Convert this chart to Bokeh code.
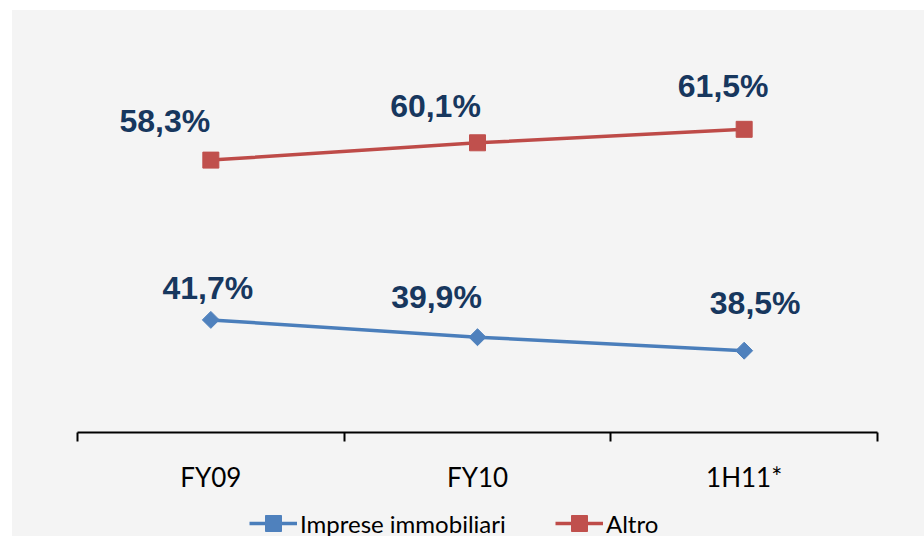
import math
from bokeh.plotting import figure
from bokeh.models import (Range1d, LinearAxis, FixedTicker, Legend, LegendItem,
                          Spacer, Row, Column)
from bokeh.core.properties import value
from bokeh.embed import file_html
from bokeh.resources import INLINE

# ---- data ----
categories = ["FY09", "FY10", "1H11*"]
imprese = [41.7, 39.9, 38.5]
altro = [58.3, 60.1, 61.5]
series_names = ["Imprese immobiliari", "Altro"]

# ---- styles ----
BG = "#f4f4f4"
BLUE_LINE, BLUE_MARK = "#4a7ebb", "#4f81bd"
RED_LINE, RED_MARK = "#be4b48", "#c0504d"
LABEL_COLOR = "#17375e"
imprese_dx = [-3, -41, 11]
imprese_dy = [-32, -40, -48]
altro_dx = [-46, -42, -21]
altro_dy = [-39, -37, -43]


def fmt(v):
    return f"{v:.1f}%".replace(".", ",")


# category slots: each category occupies one unit, centred at i + 0.5
xs = [i + 0.5 for i in range(len(categories))]
edges = list(range(len(categories) + 1))

p = figure(width=912, height=490, x_range=Range1d(0, len(categories)), y_range=Range1d(30, 70),
           x_axis_location=None, y_axis_location=None,
           output_backend="svg", toolbar_location=None,
           min_border_left=65, min_border_right=47, min_border_top=37, min_border_bottom=68)
p.background_fill_color = BG
p.border_fill_color = BG
p.outline_line_color = None
p.grid.visible = False

ax = LinearAxis(ticker=FixedTicker(ticks=xs, minor_ticks=edges),
                major_label_overrides={c: lab for c, lab in zip(xs, categories)})
ax.axis_line_color = "black"
ax.axis_line_width = 2
ax.major_tick_line_color = None
ax.major_tick_in = 0
ax.major_tick_out = 0
ax.minor_tick_line_color = "black"
ax.minor_tick_line_width = 2
ax.minor_tick_in = 0
ax.minor_tick_out = 9
ax.major_label_text_font = "Lato"
ax.major_label_text_font_size = "26px"
ax.major_label_text_color = "black"
ax.major_label_standoff = 19
p.add_layout(ax, "below")

blue_line = dict(line_color=BLUE_LINE, line_width=3.5)
blue_mark = dict(marker="square", angle=math.pi / 4, size=12, fill_color=BLUE_MARK, line_color=BLUE_MARK)
red_line = dict(line_color=RED_LINE, line_width=3.5)
red_mark = dict(marker="square", size=16, fill_color=RED_MARK, line_color=RED_MARK)

p.line(xs, imprese, **blue_line)
p.scatter(xs, imprese, **blue_mark)
p.line(xs, altro, **red_line)
p.scatter(xs, altro, **red_mark)

for vals, dx, dy in ((imprese, imprese_dx, imprese_dy), (altro, altro_dx, altro_dy)):
    p.text(x=xs, y=vals, text=[fmt(v) for v in vals], x_offset=dx, y_offset=dy,
           text_align="center", text_baseline="alphabetic",
           text_font=value("Liberation Sans"), text_font_style="bold",
           text_font_size="32px", text_color=LABEL_COLOR)

# legend strip under the chart: same series, drawn off-range so only the legend shows
q = figure(width=912, height=36, x_range=Range1d(0, len(categories)), y_range=Range1d(0, 1),
           x_axis_location=None, y_axis_location=None,
           output_backend="svg", toolbar_location=None,
           min_border_left=0, min_border_right=0, min_border_top=0, min_border_bottom=0)
q.background_fill_color = BG
q.border_fill_color = BG
q.outline_line_color = None
q.grid.visible = False
qb_l = q.line(xs, imprese, **blue_line)
qb_m = q.scatter(xs, imprese, **blue_mark)
qr_l = q.line(xs, altro, **red_line)
qr_m = q.scatter(xs, altro, **red_mark)

legend = Legend(items=[LegendItem(label=series_names[0], renderers=[qb_l, qb_m]),
                       LegendItem(label=series_names[1], renderers=[qr_l, qr_m])],
                orientation="horizontal", location=(172, -7),
                padding=0, margin=0, spacing=29, glyph_width=48, glyph_height=40,
                label_standoff=3, label_width=226,
                label_text_font="Lato", label_text_font_size="24px",
                label_text_color="black", border_line_color=None, background_fill_alpha=0)
q.add_layout(legend)

layout = Column(Spacer(height=10),
                Row(Spacer(width=12),
                    Column(p, q, spacing=0, styles={"background-color": BG}),
                    spacing=0),
                spacing=0)
open("out.html", "w").write(file_html(layout, INLINE))
